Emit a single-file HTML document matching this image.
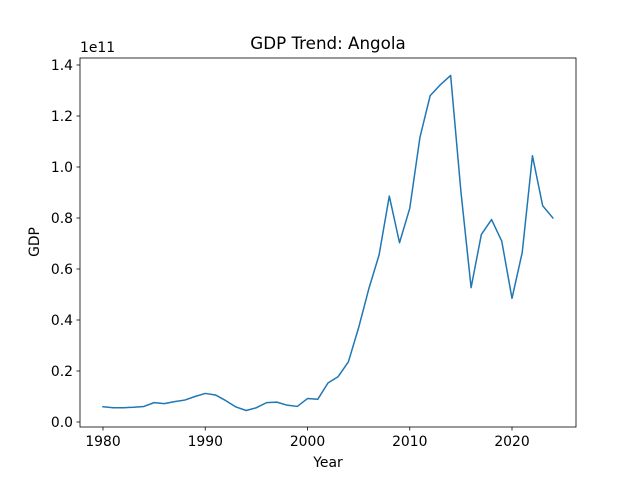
<!DOCTYPE html>
<html><head><meta charset="utf-8"><style>
body{margin:0;background:#fff;}
svg text{font-family:"DejaVu Sans","Liberation Sans",sans-serif;fill:#000;}
</style></head><body>
<svg id="chart" width="640" height="480" xmlns="http://www.w3.org/2000/svg">
<rect width="640" height="480" fill="#fff"/>
<g id="plot"></g>
</svg>
<script>
const years = [1980,1981,1982,1983,1984,1985,1986,1987,1988,1989,1990,1991,1992,1993,1994,1995,1996,1997,1998,1999,2000,2001,2002,2003,2004,2005,2006,2007,2008,2009,2010,2011,2012,2013,2014,2015,2016,2017,2018,2019,2020,2021,2022,2023,2024];
const gdp = [0.060,0.056,0.056,0.058,0.061,0.076,0.072,0.080,0.086,0.100,0.112,0.106,0.084,0.059,0.045,0.056,0.076,0.078,0.066,0.061,0.092,0.089,0.153,0.178,0.236,0.370,0.523,0.655,0.886,0.703,0.838,1.117,1.280,1.323,1.359,0.905,0.527,0.735,0.794,0.709,0.485,0.665,1.044,0.848,0.800];
const xTicks = [1980,1990,2000,2010,2020];
const yTicks = [0.0,0.2,0.4,0.6,0.8,1.0,1.2,1.4];
const yTickLabels = ["0.0","0.2","0.4","0.6","0.8","1.0","1.2","1.4"];

const L=80,R=576,T=58,B=427;
function xs(v){return 103+(v-1980)*(512-103)/40;}
function ys(v){return 422-v*(422-65)/1.4;}
const NS="http://www.w3.org/2000/svg";
const g=document.getElementById('plot');
function el(tag,attrs,text){const e=document.createElementNS(NS,tag);for(const k in attrs)e.setAttribute(k,attrs[k]);if(text!==undefined)e.textContent=text;g.appendChild(e);return e;}

let d=years.map((y,i)=>(i?'L':'M')+xs(y).toFixed(2)+' '+ys(gdp[i]).toFixed(2)).join(' ');
const line=el('path',{d:d,fill:'none',stroke:'#1f77b4','stroke-width':1.5,'stroke-linejoin':'round','stroke-linecap':'square'});



xTicks.forEach(t=>{
  const x=xs(t);
  el('line',{x1:x,x2:x,y1:B,y2:B+3.5,stroke:'#000','stroke-width':0.8});
  const tx=el('text',{x:x,y:B+19,'font-size':13.9,'text-anchor':'middle'},String(t));
  
  
});
yTicks.forEach((t,i)=>{
  const y=ys(t);
  el('line',{x1:L-3.5,x2:L,y1:y,y2:y,stroke:'#000','stroke-width':0.8});
  const tx=el('text',{x:L-7,y:y+5,'font-size':13.9,'text-anchor':'end'},yTickLabels[i]);
  
  
});
const frame=el('rect',{x:L,y:T,width:R-L,height:B-T,fill:'none',stroke:'#000','stroke-width':0.8});


const title=el('text',{x:(L+R)/2,y:49,'font-size':16.7,'text-anchor':'middle'},'GDP Trend: Angola');


const xl=el('text',{x:(L+R)/2,y:467,'font-size':13.9,'text-anchor':'middle'},'Year');


const yl=el('text',{x:0,y:0,'font-size':13.9,'text-anchor':'middle',transform:'translate(39,242) rotate(-90)'},'GDP');


const off=el('text',{x:L,y:52,'font-size':13.9},'1e11');


</script>
</body></html>
